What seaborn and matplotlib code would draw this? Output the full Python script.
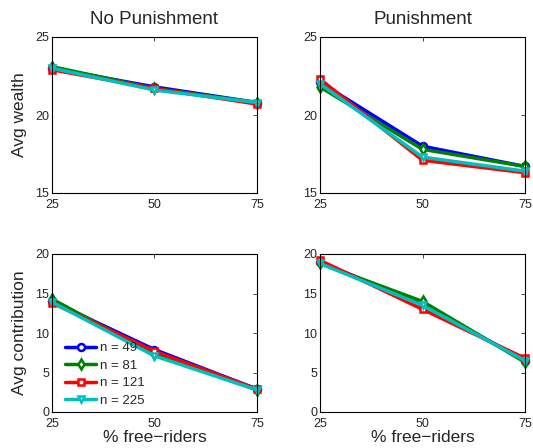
import matplotlib
matplotlib.use("Agg")
import matplotlib.pyplot as plt
import seaborn as sns
import pandas as pd

x_vals = [25, 50, 75]
series_labels = ["n = 49", "n = 81", "n = 121", "n = 225"]
colors = ["#0000ff", "#008000", "#ff0000", "#00bfbf"]
markers = ["o", "d", "s", "v"]

wealth_nopun = {
    "n = 49": [23.0, 21.8, 20.8],
    "n = 81": [23.1, 21.7, 20.8],
    "n = 121": [22.9, 21.7, 20.7],
    "n = 225": [23.0, 21.6, 20.8],
}
wealth_pun = {
    "n = 49": [22.1, 18.0, 16.7],
    "n = 81": [21.8, 17.8, 16.7],
    "n = 121": [22.3, 17.1, 16.3],
    "n = 225": [22.0, 17.3, 16.4],
}
contrib_nopun = {
    "n = 49": [14.0, 7.9, 2.9],
    "n = 81": [14.3, 7.3, 2.8],
    "n = 121": [13.8, 7.7, 2.9],
    "n = 225": [13.9, 7.1, 2.8],
}
contrib_pun = {
    "n = 49": [19.0, 13.6, 6.5],
    "n = 81": [18.8, 14.0, 6.3],
    "n = 121": [19.2, 13.0, 6.8],
    "n = 225": [18.8, 13.5, 6.5],
}

sns.set_style("white")
plt.rcParams["font.family"] = ["Liberation Sans", "DejaVu Sans"]

fig = plt.figure(figsize=(5.33, 4.48), dpi=100)
W, H = 533, 448
def axpos(l, t, r, b):
    return [l / W, 1 - b / H, (r - l) / W, (b - t) / H]

ax_tl = fig.add_axes(axpos(52, 37, 257, 193))
ax_tr = fig.add_axes(axpos(320, 37, 525, 193))
ax_bl = fig.add_axes(axpos(52, 254, 257, 412))
ax_br = fig.add_axes(axpos(320, 254, 525, 412))

def draw(ax, data, ylim, yticks):
    for lab, c, m in zip(series_labels, colors, markers):
        df = pd.DataFrame({"x": x_vals, "y": data[lab]})
        sns.lineplot(data=df, x="x", y="y", ax=ax, color=c, marker=m,
                     markersize=5, markerfacecolor="white",
                     markeredgecolor=c, markeredgewidth=1.8,
                     linewidth=2.5, label=lab, clip_on=False)
    ax.set_xlim(25, 75)
    ax.set_ylim(*ylim)
    ax.set_xticks(x_vals)
    ax.set_yticks(yticks)
    ax.tick_params(direction="in", top=True, right=True, length=3,
                   labelsize=9, width=0.6, pad=2)
    ax.tick_params(axis="x", pad=4)
    for s in ax.spines.values():
        s.set_linewidth(0.8)
        s.set_color("black")
    ax.set_xlabel("")
    ax.set_ylabel("")
    leg = ax.get_legend()
    if leg:
        leg.remove()

draw(ax_tl, wealth_nopun, (15, 25), [15, 20, 25])
draw(ax_tr, wealth_pun, (15, 25), [15, 20, 25])
draw(ax_bl, contrib_nopun, (0, 20), [0, 5, 10, 15, 20])
draw(ax_br, contrib_pun, (0, 20), [0, 5, 10, 15, 20])

ax_tl.set_title("No Punishment", fontsize=13.5, pad=9)
ax_tr.set_title("Punishment", fontsize=13.5, pad=9)
ax_tl.set_ylabel("Avg wealth", fontsize=12.5, labelpad=6)
ax_bl.set_ylabel("Avg contribution", fontsize=12.5, labelpad=6)
ax_bl.set_xlabel("% free\u2212riders", fontsize=12.5, labelpad=0)
ax_br.set_xlabel("% free\u2212riders", fontsize=12.5, labelpad=0)

handles, labels = ax_bl.get_legend_handles_labels()
ax_bl.legend(handles, labels, loc="lower left", frameon=False, fontsize=9.5,
             handlelength=2.3, handletextpad=0.35, labelspacing=0.4,
             borderaxespad=0.0, bbox_to_anchor=(0.04, 0.0))

fig.savefig("out.png", dpi=100)
